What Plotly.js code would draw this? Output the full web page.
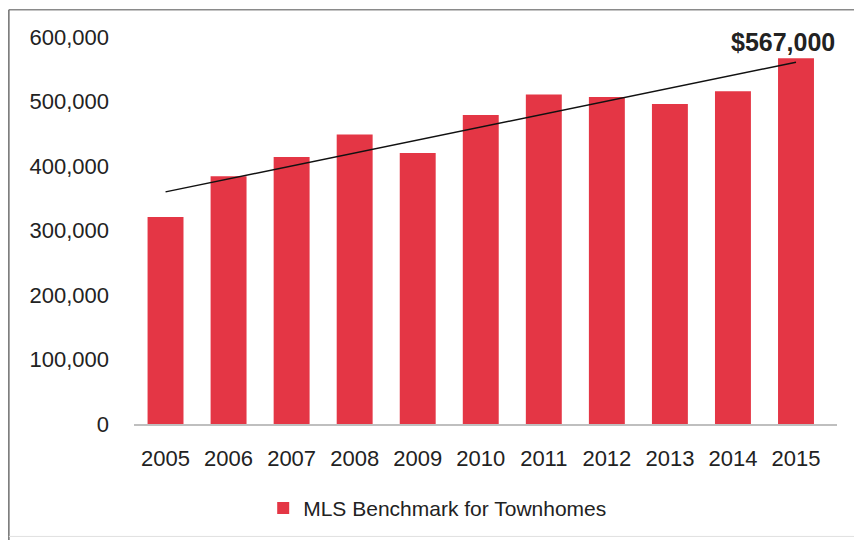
<!DOCTYPE html>
<html>
<head>
<meta charset="utf-8">
<script src="https://cdn.plot.ly/plotly-3.0.1.min.js"></script>
<style>
  html, body { margin: 0; padding: 0; background: #fff; }
  #chart { width: 854px; height: 541px; }
</style>
</head>
<body>
<div id="chart"></div>
<script>
const years = ['2005','2006','2007','2008','2009','2010','2011','2012','2013','2014','2015'];
const benchmark = [321000, 384000, 414000, 449000, 420000, 479000, 511000, 507000, 496000, 516000, 567000];
const yTickVals = [0, 100000, 200000, 300000, 400000, 500000, 600000];
const yTickText = ['0', '100,000', '200,000', '300,000', '400,000', '500,000', '600,000'];
const seriesName = 'MLS Benchmark for Townhomes';
const calloutText = '$567,000';

// Linear trendline (least squares) over the series
const n = benchmark.length;
const xi = benchmark.map((_, i) => i);
const mx = xi.reduce((a, b) => a + b, 0) / n;
const my = benchmark.reduce((a, b) => a + b, 0) / n;
let sxy = 0, sxx = 0;
for (let i = 0; i < n; i++) { sxy += (xi[i] - mx) * (benchmark[i] - my); sxx += (xi[i] - mx) ** 2; }
const slope = sxy / sxx;
const icpt = my - slope * mx;
const trend = xi.map(i => icpt + slope * i);

const font = 'Liberation Sans, Arial, sans-serif';
const textColor = '#222222';

const data = [
  {
    type: 'bar',
    x: years,
    y: benchmark,
    name: seriesName,
    marker: { color: '#E43645' },
    hoverinfo: 'x+y'
  },
  {
    type: 'scatter',
    mode: 'lines',
    x: years,
    y: trend,
    line: { color: '#111111', width: 1.5 },
    showlegend: false,
    hoverinfo: 'skip'
  }
];

const layout = {
  width: 854,
  height: 541,
  margin: { l: 134, r: 17, t: 37, b: 117 },
  paper_bgcolor: '#ffffff',
  plot_bgcolor: '#ffffff',
  font: { family: font, color: textColor, size: 22 },
  bargap: 0.43,
  showlegend: true,
  legend: {
    orientation: 'h',
    x: 0.432, xanchor: 'center',
    y: -0.218, yanchor: 'middle',
    font: { family: font, size: 21, color: textColor },
    itemwidth: 30
  },
  xaxis: {
    type: 'category',
    showgrid: false,
    zeroline: false,
    showline: true,
    linecolor: '#BFBFBF',
    linewidth: 1.5,
    ticks: '',
    tickfont: { family: font, size: 22, color: textColor },
    ticklabelstandoff: 14,
    fixedrange: true
  },
  yaxis: {
    range: [0, 600000],
    tickvals: yTickVals,
    ticktext: yTickText,
    showgrid: false,
    zeroline: false,
    showline: false,
    ticks: '',
    tickfont: { family: font, size: 22, color: textColor },
    ticklabelstandoff: 24,
    fixedrange: true
  },
  annotations: [
    {
      x: years.length - 1,
      y: benchmark[benchmark.length - 1],
      xref: 'x', yref: 'y',
      text: '<b>' + calloutText + '</b>',
      showarrow: false,
      xanchor: 'center', yanchor: 'bottom',
      xshift: -13, yshift: 0,
      font: { family: font, size: 25, color: textColor }
    }
  ],
  shapes: [
    { type: 'line', xref: 'paper', yref: 'paper', x0: -0.178, x1: 1.03, y0: 1.0705, y1: 1.0705,
      line: { color: '#8a8a8a', width: 1.5 }, layer: 'above' },
    { type: 'line', xref: 'paper', yref: 'paper', x0: -0.178, x1: -0.178, y0: 1.0705, y1: -0.3,
      line: { color: '#6e6e6e', width: 1.5 }, layer: 'above' },
    { type: 'line', xref: 'paper', yref: 'paper', x0: -0.178, x1: 1.03, y0: -0.2905, y1: -0.2905,
      line: { color: '#e0e0e0', width: 1 }, layer: 'above' }
  ]
};

Plotly.newPlot('chart', data, layout, { displayModeBar: false, staticPlot: true });
</script>
</body>
</html>
